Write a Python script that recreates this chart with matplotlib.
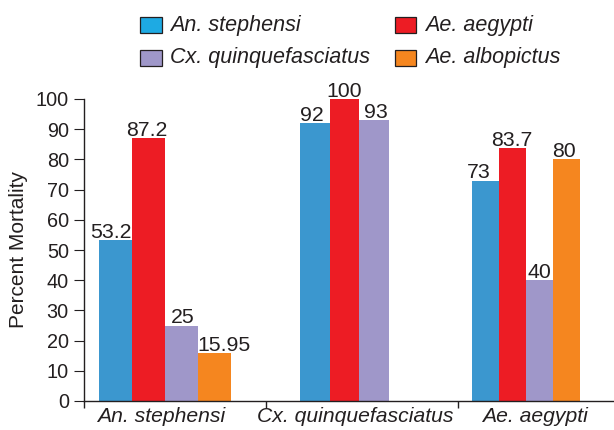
import matplotlib
matplotlib.use("Agg")
import matplotlib.pyplot as plt
from matplotlib.patches import Rectangle

# ---- data ----
groups = ["An. stephensi", "Cx. quinquefasciatus", "Ae. aegypti"]
series = ["An. stephensi", "Ae. aegypti", "Cx. quinquefasciatus", "Ae. albopictus"]
an_stephensi = [53.2, 92, 73]
ae_aegypti = [87.2, 100, 83.7]
cx_quinquefasciatus = [25, 93, 40]
ae_albopictus = [15.95, None, 80]
values = [an_stephensi, ae_aegypti, cx_quinquefasciatus, ae_albopictus]
yticks = list(range(0, 101, 10))

# ---- style / layout ----
bar_colors = ["#3b97cf", "#ed1c24", "#9f97c9", "#f5861f"]
legend_colors = ["#1eaae3", "#ed1c24", "#9f97c9", "#f5861f"]
W, H = 614, 430
group_centers = [164.9, 344.5, 526.3]     # px layout
bar_widths = [33.0, 29.8, 26.9]
label_centers = [161, 355.7, 535]
separators = [84.1, 265.8, 457.6]
label_dx = [[-4, -2, 1, 10], [-3, 0, 2], [-7, -1, 0, -3]]
FONT = "Liberation Sans"

plt.rcParams["font.family"] = [FONT, "DejaVu Sans"]

fig = plt.figure(figsize=(W / 100, H / 100), dpi=100)
ax_left, ax_bottom, ax_top = 84.1, 401.0, 99.0
ax = fig.add_axes([ax_left / W, 1 - ax_bottom / H, 1 - ax_left / W, (ax_bottom - ax_top) / H])
ax.set_xlim(ax_left, W)
ax.set_ylim(0, 100)

for g, center in enumerate(group_centers):
    present = [s for s in range(len(series)) if values[s][g] is not None]
    n = len(present)
    w = bar_widths[g]
    for k, s in enumerate(present):
        v = values[s][g]
        x = center + (k - (n - 1) / 2) * w
        ax.bar(x, v, width=w, color=bar_colors[s], linewidth=0, zorder=2)
        ax.annotate(f"{v:g}", xy=(x, v), xytext=(label_dx[g][k] * 0.72, 1.5),
                    textcoords="offset points", ha="center", va="baseline",
                    fontsize=15.3, color="#231f20", annotation_clip=False)

for sp in ["top", "right"]:
    ax.spines[sp].set_visible(False)
for sp in ["left", "bottom"]:
    ax.spines[sp].set_linewidth(1.0)
    ax.spines[sp].set_color("#231f20")

ax.set_yticks(yticks)
ax.set_yticklabels([str(t) for t in yticks], fontsize=14.3)
ax.tick_params(axis="y", direction="out", length=7.5, width=0.8, pad=3.5,
               colors="#231f20", labelcolor="#231f20")

ax.set_xticks(label_centers)
ax.set_xticklabels(groups, fontsize=15.2, style="italic", color="#231f20")
ax.tick_params(axis="x", which="major", length=0, pad=4.5)
ax.set_xticks(separators, minor=True)
ax.tick_params(axis="x", which="minor", direction="out", length=5, width=1.0,
               color="#231f20")

fig.text(19 / W, 1 - 249 / H, "Percent Mortality", rotation=90, ha="center",
         va="center", fontsize=15, color="#231f20")

# legend (manual)
slot_x = [140, 395]
slot_text_x = [170.5, 425]
slot_y = [25, 58]
for s, name in enumerate(series):
    col, row = s % 2, s // 2
    pw, ph = 21.5, 16.5
    x0 = slot_x[col]
    yc = slot_y[row]
    fig.add_artist(Rectangle((x0 / W, 1 - (yc + ph / 2) / H), pw / W, ph / H,
                             transform=fig.transFigure, facecolor=legend_colors[s],
                             edgecolor="#231f20", linewidth=0.9))
    fig.text(slot_text_x[col] / W, 1 - yc / H, name, ha="left", va="center",
             fontsize=15.5, style="italic", color="#231f20")

fig.savefig("out.png", dpi=100)
